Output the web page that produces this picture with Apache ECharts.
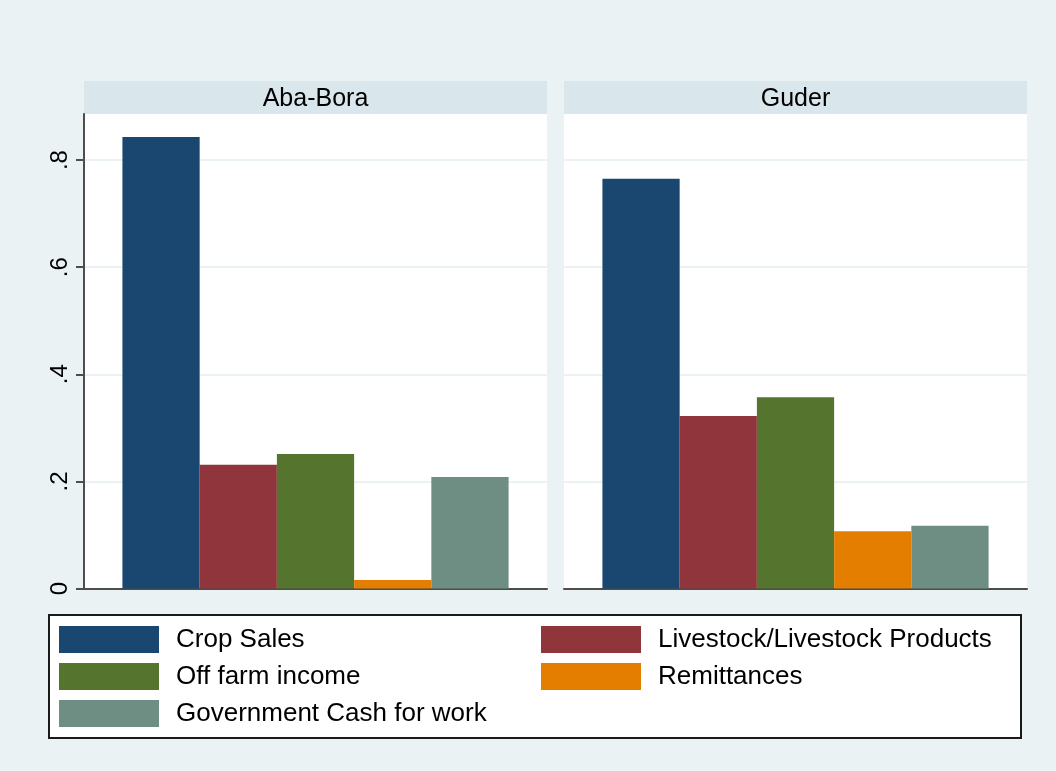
<!DOCTYPE html>
<html>
<head>
<meta charset="utf-8">
<script src="https://cdn.jsdelivr.net/npm/echarts@6/dist/echarts.min.js"></script>
<style>
  html, body { margin: 0; padding: 0; background: #EAF2F3; }
  #chart { width: 1056px; height: 771px; }
</style>
</head>
<body>
<div id="chart"></div>
<script>
// Panels (one per district) and the income sources plotted in each
const regions = ['Aba-Bora', 'Guder'];
const sources = ['Crop Sales', 'Livestock/Livestock Products', 'Off farm income', 'Remittances', 'Government Cash for work'];

// Share of households per source, ordered as regions
const cropSales      = [0.843, 0.765];
const livestock      = [0.231, 0.322];
const offFarm        = [0.251, 0.357];
const remittances    = [0.016, 0.107];
const govCashForWork = [0.208, 0.117];

const yTicks = [0, 0.2, 0.4, 0.6, 0.8];
const yMax = 0.886;

const colors = ['#1A476F', '#90353B', '#55752F', '#E37E00', '#6E8E84'];
const seriesValues = [cropSales, livestock, offFarm, remittances, govCashForWork];

const FONT = '"Liberation Sans", Arial, sans-serif';
const panelLeft = [84, 564];
const panelWidth = 463;
const panelTop = 114;
const panelHeight = 474.5;

const fmt = v => (v === 0 ? '0' : String(+v.toFixed(2)).replace(/^0/, ''));

const grids = regions.map((r, i) => ({
  left: panelLeft[i], top: panelTop, width: panelWidth, height: panelHeight,
  show: true, backgroundColor: '#FFFFFF', borderWidth: 0
}));

const xAxes = regions.map((r, i) => ({
  type: 'category', gridIndex: i, data: [r],
  axisLine: { show: true, lineStyle: { color: '#4D4D4D', width: 2 } },
  axisTick: { show: false }, axisLabel: { show: false }
}));

const yAxes = regions.map((r, i) => ({
  type: 'value', gridIndex: i, min: 0, max: yMax, interval: 0.2,
  axisLine: { show: i === 0, lineStyle: { color: '#4D4D4D', width: 2 } },
  axisTick: { show: i === 0, length: 8, customValues: yTicks, lineStyle: { color: '#4D4D4D', width: 2 } },
  axisLabel: {
    show: i === 0, customValues: yTicks, rotate: 90, margin: 12,
    fontFamily: FONT, fontSize: 24, color: '#000', formatter: fmt
  },
  splitLine: { show: true, lineStyle: { color: '#EAF2F3', width: 2 } }
}));

const series = [];
sources.forEach((name, s) => {
  regions.forEach((r, i) => {
    series.push({
      type: 'bar', name: name, xAxisIndex: i, yAxisIndex: i,
      data: [seriesValues[s][i]],
      itemStyle: { color: colors[s] },
      barGap: '0%', barCategoryGap: '16.6%',
      emphasis: { disabled: true }
    });
  });
});

const legendCommon = {
  orient: 'vertical', top: 626, padding: 0, itemWidth: 100, itemHeight: 27, itemGap: 10,
  icon: 'rect', selectedMode: false,
  textStyle: { fontFamily: FONT, fontSize: 26, color: '#000', lineHeight: 27, padding: [0, 0, 0, 12] }
};

const option = {
  backgroundColor: '#EAF2F3',
  animation: false,
  color: colors,
  grid: grids,
  xAxis: xAxes,
  yAxis: yAxes,
  series: series,
  legend: [
    Object.assign({ left: 59, data: [sources[0], sources[2], sources[4]] }, legendCommon),
    Object.assign({ left: 541, data: [sources[1], sources[3]] }, legendCommon)
  ],
  graphic: [
    // panel title strips
    ...regions.map((r, i) => ({
      type: 'group', z: 10,
      children: [
        { type: 'rect', shape: { x: panelLeft[i], y: 81, width: panelWidth, height: panelTop - 81 },
          style: { fill: '#D9E6EB' } },
        { type: 'text', x: panelLeft[i] + panelWidth / 2, y: 99,
          style: { text: r, fill: '#000', font: '25px ' + FONT, align: 'center', verticalAlign: 'middle' } }
      ]
    })),
    // legend frame
    { type: 'rect', z: -1, shape: { x: 49, y: 615, width: 972, height: 123 },
      style: { fill: '#FFFFFF', stroke: '#1A1A1A', lineWidth: 2 } }
  ]
};

const chart = echarts.init(document.getElementById('chart'), null, { renderer: 'canvas' });
chart.setOption(option);
</script>
</body>
</html>
